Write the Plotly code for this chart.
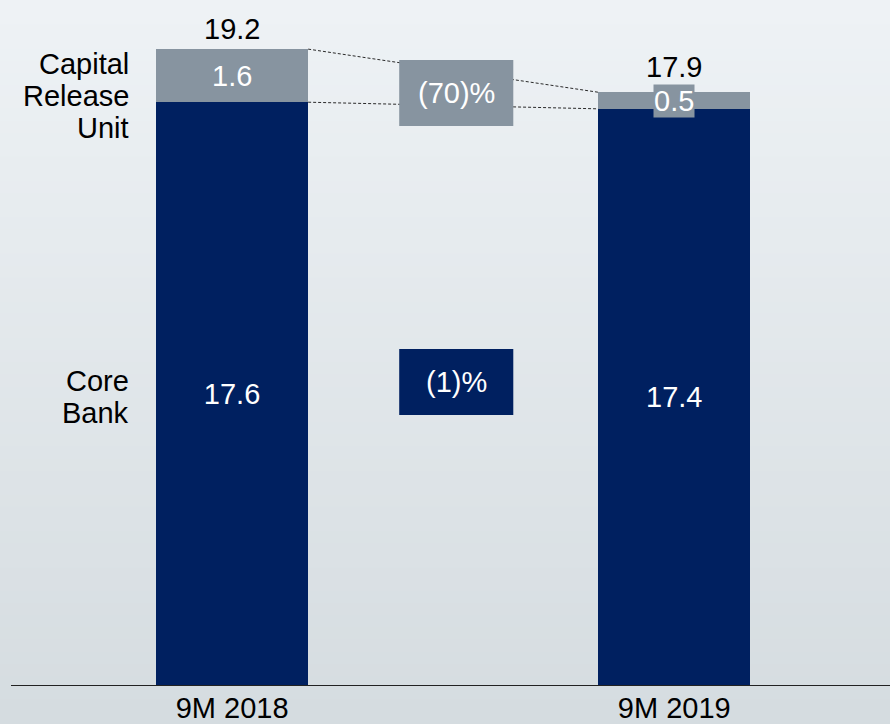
import plotly.graph_objects as go

# Data
periods = ["9M 2018", "9M 2019"]
core_bank = [17.6, 17.4]
capital_release = [1.6, 0.5]
totals = [19.2, 17.9]
cru_change = "(70)%"
core_change = "(1)%"
core_label = ["Core", "Bank"]
cru_label = ["Capital", "Release", "Unit"]

NAVY = "#002060"
GREY = "#8794A0"
FONT = "Liberation Sans, Arial, sans-serif"
FS = 29

x = [0, 1]
bar_w = 0.344

fig = go.Figure()

fig.add_trace(go.Bar(
    x=x, y=core_bank, width=bar_w, marker=dict(color=NAVY, line=dict(width=0)),
    text=[f"{v:.1f}" for v in core_bank], textposition="inside", insidetextanchor="middle",
    textfont=dict(color="white", size=FS, family=FONT), showlegend=False, hoverinfo="skip",
))
fig.add_trace(go.Bar(
    x=x, y=capital_release, width=bar_w, marker=dict(color=GREY, line=dict(width=0)),
    showlegend=False, hoverinfo="skip",
))

shapes = []
# gradient background, drawn as thin strips
n = 60
top_c = (0xEE, 0xF2, 0xF5)
bot_c = (0xD5, 0xDC, 0xE0)
y0p, y1p = -38 / 680, 1 + 6 / 680
for i in range(n):
    t = i / (n - 1)
    c = tuple(round(top_c[k] + (bot_c[k] - top_c[k]) * t) for k in range(3))
    ya = y1p - (y1p - y0p) * i / n
    yb = y1p - (y1p - y0p) * (i + 1) / n
    shapes.append(dict(type="rect", xref="paper", yref="paper", x0=-11 / 879, x1=1.0,
                       y0=yb - 0.002, y1=ya, fillcolor="rgb(%d,%d,%d)" % c,
                       line=dict(width=0), layer="below"))

# dashed connectors between the bar tops
half = bar_w / 2
dash_line = dict(color="#2a2a2a", width=1, dash="3px,2px")
shapes.append(dict(type="line", xref="x", yref="y", x0=x[0] + half, y0=totals[0],
                   x1=x[1] - half, y1=totals[1], line=dash_line))
shapes.append(dict(type="line", xref="x", yref="y", x0=x[0] + half, y0=core_bank[0],
                   x1=x[1] - half, y1=core_bank[1], line=dash_line))

# change boxes
shapes.append(dict(type="rect", xref="x", yref="y", x0=0.378, x1=0.636, y0=16.88, y1=18.87,
                   fillcolor=GREY, line=dict(width=0), layer="above"))
shapes.append(dict(type="rect", xref="x", yref="y", x0=0.378, x1=0.636, y0=8.17, y1=10.16,
                   fillcolor=NAVY, line=dict(width=0), layer="above"))

# x axis baseline
shapes.append(dict(type="line", xref="paper", yref="y", x0=0, x1=1, y0=0, y1=0,
                   line=dict(color="#222", width=2)))

annotations = []
# totals above bars (second one lifted a bit to clear the 0.5 label box)
for xi, t, shift in zip(x, totals, [2, 7]):
    annotations.append(dict(x=xi, y=t, text=f"{t:.1f}", showarrow=False, yanchor="bottom", yshift=shift,
                            font=dict(color="black", size=FS, family=FONT)))
# CRU segment labels
annotations.append(dict(x=x[0], y=core_bank[0] + capital_release[0] / 2, text=f"{capital_release[0]:.1f}",
                        showarrow=False, font=dict(color="white", size=FS, family=FONT)))
annotations.append(dict(x=x[1], y=core_bank[1] + capital_release[1] / 2, text=f"{capital_release[1]:.1f}",
                        showarrow=False, bgcolor=GREY, borderpad=0,
                        font=dict(color="white", size=FS, family=FONT)))
# change labels
annotations.append(dict(x=0.507, y=17.875, text=cru_change, showarrow=False,
                        font=dict(color="white", size=FS, family=FONT)))
annotations.append(dict(x=0.507, y=9.165, text=core_change, showarrow=False,
                        font=dict(color="white", size=FS, family=FONT)))


# segment names on the left, one annotation per line for tighter spacing
def side_label(lines, y_center):
    for i, line in enumerate(lines):
        annotations.append(dict(xref="paper", x=120 / 879, xanchor="right", y=y_center,
                                yshift=-(i - (len(lines) - 1) / 2) * 32, text=line, showarrow=False,
                                font=dict(color="black", size=FS, family=FONT)))


side_label(core_label, 8.7)
side_label(cru_label, 17.8)

fig.update_layout(
    barmode="stack",
    width=890, height=724,
    margin=dict(l=11, r=0, t=6, b=38, autoexpand=False),
    paper_bgcolor="#E3E8EB",
    plot_bgcolor="rgba(0,0,0,0)",
    shapes=shapes,
    annotations=annotations,
    xaxis=dict(range=[-0.5, 1.488], tickvals=x, ticktext=periods, showgrid=False, zeroline=False,
               showline=False, ticks="", ticklabelstandoff=2, automargin=False,
               tickfont=dict(color="black", size=29, family=FONT)),
    yaxis=dict(range=[0, 20.5], visible=False, automargin=False),
)

fig.write_html("out.html", config={"displayModeBar": False},
               post_script="document.body.style.margin='0';")
